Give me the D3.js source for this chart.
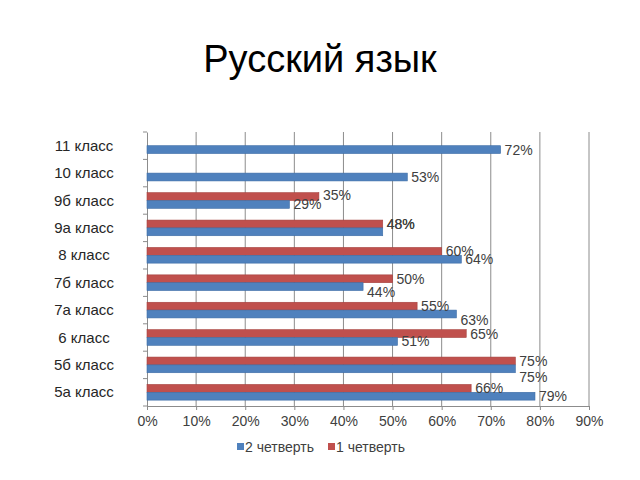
<!DOCTYPE html>
<html>
<head>
<meta charset="utf-8">
<script src="https://cdn.jsdelivr.net/npm/d3@7"></script>
<style>
  body { margin: 0; background: #fff; }
  svg { display: block; }
</style>
</head>
<body>
<div id="chart"></div>
<script>
// categories, top to bottom
const classes = ['11 класс', '10 класс', '9б класс', '9а класс', '8 класс', '7б класс', '7а класс', '6 класс', '5б класс', '5а класс'];
const seriesNames = ['1 четверть', '2 четверть'];
// 1 четверть (null = no data)
const q1Values = [null, null, 35, 48, 60, 50, 55, 65, 75, 66];
// 2 четверть
const q2Values = [72, 53, 29, 48, 64, 44, 63, 51, 75, 79];
const xTicks = [0, 10, 20, 30, 40, 50, 60, 70, 80, 90];

// label nudges (px, vertical) where the original labels were moved
const labelNudge = {
  '2 четверть|9а класс': -8,
  '2 четверть|7б класс': 5,
  '2 четверть|7а класс': 6,
  '2 четверть|5б класс': 8,
  '1 четверть|9б класс': -2
};

const W = 640, H = 480;
const M = { left: 147, right: 51, top: 132, bottom: 74 };
const colors = { '1 четверть': '#c0504d', '2 четверть': '#4f81bd' };
const strokes = { '1 четверть': '#a5403d', '2 четверть': '#3d6da6' };
const font = '"Liberation Sans", Arial, sans-serif';

const svg = d3.select('#chart').append('svg').attr('width', W).attr('height', H);

svg.append('text')
  .attr('x', 320).attr('y', 72)
  .attr('text-anchor', 'middle')
  .attr('font-family', font)
  .attr('font-size', 38)
  .attr('fill', '#000')
  .text('Русский язык');

const x = d3.scaleLinear().domain([0, 90]).range([M.left, W - M.right]);
const y = d3.scaleBand().domain(classes).range([M.top, H - M.bottom]).paddingInner(0).paddingOuter(0);
// gap width 150%: two bars take 2 / 3.5 of the band
const inner = d3.scaleBand().domain(seriesNames).range([0, y.bandwidth()]).paddingInner(0).paddingOuter(0.75);

// gridlines
svg.append('g').selectAll('line').data(xTicks.slice(1)).join('line')
  .attr('x1', d => x(d)).attr('x2', d => x(d))
  .attr('y1', M.top).attr('y2', H - M.bottom)
  .attr('stroke', '#8c8c8c').attr('stroke-width', 1);

// bottom axis
const xAxis = svg.append('g')
  .attr('transform', `translate(0,${H - M.bottom})`)
  .call(d3.axisBottom(x).tickValues(xTicks).tickFormat(d => d + '%').tickSize(4).tickPadding(6));
xAxis.select('.domain').attr('stroke', '#8c8c8c');
xAxis.selectAll('.tick line').attr('stroke', '#8c8c8c');
xAxis.selectAll('text').attr('font-family', font).attr('font-size', 14).attr('fill', '#404040');

// left axis
const yAxis = svg.append('g')
  .attr('transform', `translate(${M.left},0)`)
  .call(d3.axisLeft(y).tickValues([]).tickSizeOuter(0));
yAxis.select('.domain').attr('stroke', '#8c8c8c');
svg.append('g').selectAll('line').data(d3.range(classes.length + 1)).join('line')
  .attr('x1', M.left - 4).attr('x2', M.left)
  .attr('y1', i => M.top + i * y.step()).attr('y2', i => M.top + i * y.step())
  .attr('stroke', '#8c8c8c');

svg.append('g').selectAll('text').data(classes).join('text')
  .attr('x', 84).attr('y', d => y(d) + y.bandwidth() / 2 + 5)
  .attr('text-anchor', 'middle')
  .attr('font-family', font).attr('font-size', 15).attr('fill', '#262626')
  .text(d => d);

// bars
const rows = [];
classes.forEach((c, i) => {
  rows.push({ cls: c, series: '1 четверть', value: q1Values[i] });
  rows.push({ cls: c, series: '2 четверть', value: q2Values[i] });
});
const barData = rows.filter(r => r.value !== null);

svg.append('g').selectAll('rect').data(barData).join('rect')
  .attr('x', x(0))
  .attr('y', d => y(d.cls) + inner(d.series))
  .attr('width', d => x(d.value) - x(0))
  .attr('height', inner.bandwidth())
  .attr('fill', d => colors[d.series])
  .attr('stroke', d => strokes[d.series])
  .attr('stroke-width', 0.6);

svg.append('g').selectAll('text').data(barData).join('text')
  .attr('x', d => x(d.value) + 4)
  .attr('y', d => y(d.cls) + inner(d.series) + inner.bandwidth() / 2 + 5 + (labelNudge[d.series + '|' + d.cls] || 0))
  .attr('font-family', font).attr('font-size', 14).attr('fill', '#404040')
  .text(d => d.value + '%');

// legend
const legend = [
  { name: '2 четверть', x: 237 },
  { name: '1 четверть', x: 328 }
];
const lg = svg.append('g').selectAll('g').data(legend).join('g')
  .attr('transform', d => `translate(${d.x},447)`);
lg.append('rect').attr('x', 0).attr('y', -4).attr('width', 7).attr('height', 7)
  .attr('fill', d => colors[d.name]);
lg.append('text').attr('x', 8).attr('y', 5)
  .attr('font-family', font).attr('font-size', 14).attr('fill', '#404040')
  .text(d => d.name);
</script>
</body>
</html>
